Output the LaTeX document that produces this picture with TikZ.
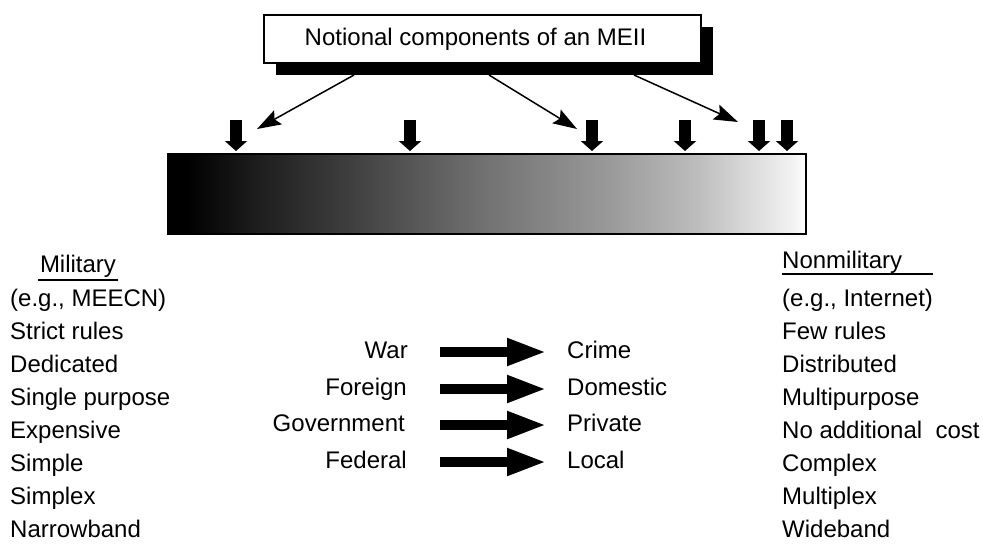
\documentclass[tikz,border=0pt]{standalone}
\usepackage{fontspec}
\setmainfont{Liberation Sans}
\usetikzlibrary{arrows.meta,shadows,calc}
\pgfdeclarehorizontalshading{barshade}{100bp}{color(0bp)=(black); color(25bp)=(black); color(26.4bp)=(black); color(32.2bp)=(black!88); color(40bp)=(black!74); color(49.5bp)=(black!56); color(59.5bp)=(black!40); color(66.5bp)=(black!26); color(71bp)=(black!13); color(74bp)=(black!5); color(75bp)=(white); color(100bp)=(white)}
\begin{document}
\begin{tikzpicture}[x=1pt,y=-1pt,
  txt/.style={font=\fontsize{24}{28}\selectfont, inner sep=0pt, text height=17pt, text depth=5pt},
  titlebox/.style={draw, line width=1.5pt, fill=white, minimum width=437pt, minimum height=48pt, inner sep=0pt,
    general shadow={fill=black, shadow xshift=12pt, shadow yshift=-12pt}, font=\fontsize{24}{28}\selectfont},
  pointer/.style={line width=1.5pt, -{Stealth[length=24pt,width=16pt,inset=4pt]}},
  marker/.style={line width=12pt, -{Triangle[length=10pt,width=22pt]}},
  bigarrow/.style={line width=10pt, -{Triangle[length=40pt,width=25pt]}},
  uline/.style={line width=1.5pt},
  barbox/.style={draw, line width=2pt, minimum width=638pt, minimum height=80pt, inner sep=0pt, shade, shading=barshade}
]
\useasboundingbox (0,0) rectangle (983,550);

% title
\node[titlebox] (title) at (482.5,39) {Notional components of an MEII\hspace*{14pt}};

% bar
\node[barbox] (bar) at (487,194) {};

% markers
\foreach \i/\x in {1/236,2/410,3/592,4/685,5/759,6/787}{
  \coordinate (m\i) at (\x,120);
  \draw[marker, shorten >=2pt] (m\i) -- (m\i |- bar.north);
}

% pointers from title
\coordinate (s1) at (354,75);
\coordinate (s2) at (489,75);
\coordinate (s3) at (634,75);
\coordinate (p1) at (257,129);
\coordinate (p2) at (577,129);
\coordinate (p3) at (738,122);
\draw[pointer] (s1) -- (p1);
\draw[pointer] (s2) -- (p2);
\draw[pointer] (s3) -- (p3);

% left column
\node[txt, anchor=base] (mil) at (78,272) {Military};
\draw[uline] (38,280) -- (118,280);
\foreach \t [count=\k from 0] in {(e.g., MEECN),Strict rules,Dedicated,Single purpose,Expensive,Simple,Simplex,Narrowband}{
  \node[txt, anchor=base west] (l\k) at (10,306+33*\k) {\t};
}

% right column
\node[txt, anchor=base west] (nonmil) at (782,268) {Nonmilitary};
\draw[uline] (782,274) -- (933,274);
\foreach \t [count=\k from 0] in {(e.g., Internet),Few rules,Distributed,Multipurpose,No additional\ \ cost,Complex,Multiplex,Wideband}{
  \node[txt, anchor=base west] (r\k) at (782,306+33*\k) {\t};
}

% middle
\node[txt, anchor=base east] (war) at (408,358) {War};
\node[txt, anchor=base east] (foreign) at (407,395) {Foreign};
\node[txt, anchor=base east] (gov) at (405,431) {Government};
\node[txt, anchor=base east] (fed) at (407,468) {Federal};
\node[txt, anchor=base west] (crime) at (567,358) {Crime};
\node[txt, anchor=base west] (dom) at (567,395) {Domestic};
\node[txt, anchor=base west] (priv) at (567,431) {Private};
\node[txt, anchor=base west] (loc) at (567,468) {Local};

\draw[bigarrow] ($(war.east)+(32,0)$) -- ($(crime.west)+(-20,0)$);
\draw[bigarrow] ($(foreign.east)+(33,0)$) -- ($(dom.west)+(-20,0)$);
\draw[bigarrow] ($(gov.east)+(35,0)$) -- ($(priv.west)+(-20,0)$);
\draw[bigarrow] ($(fed.east)+(33,0)$) -- ($(loc.west)+(-20,0)$);
\end{tikzpicture}
\end{document}
